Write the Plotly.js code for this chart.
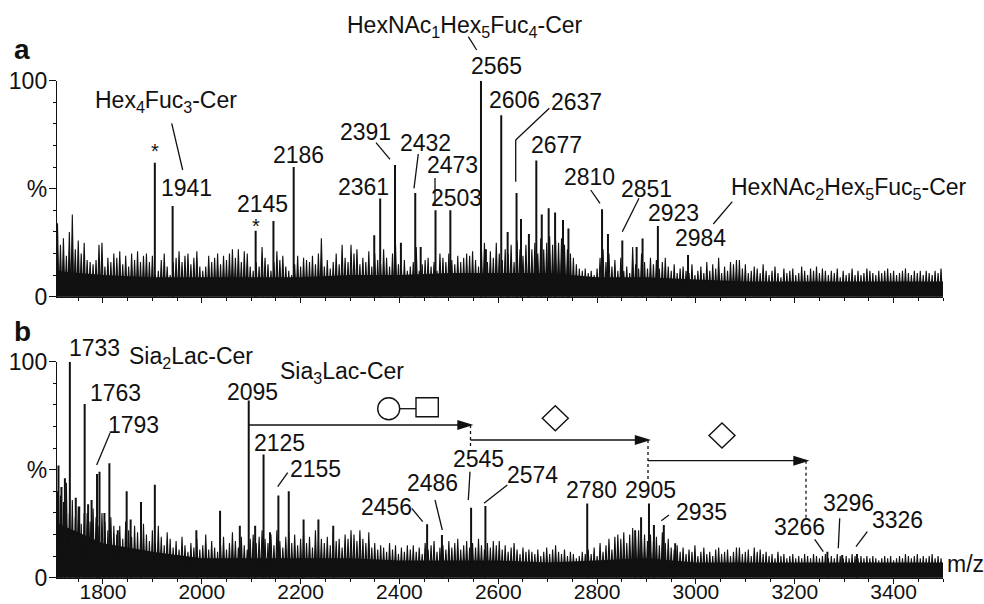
<!DOCTYPE html>
<html><head><meta charset="utf-8">
<script src="https://cdn.plot.ly/plotly-3.0.1.min.js"></script>
<style>html,body{margin:0;padding:0;background:#fff}#chart{width:984px;height:604px}</style>
</head><body><div id="chart"></div>
<script>
// ---- data ----
const gridStart = 1708, gridStep = 6;   // sampling grid of the noise spikes (m/z)
const noiseA = [
34,24,27,19,30,38,22,26,20,25,
17,16,15,17,24,25,14,18,16,20,
18,21,15,19,14,20,17,21,16,19,
20,16,19,10,12,17,20,14,10,16,
18,21,16,19,20,15,18,21,14,12,
14,19,16,18,20,15,19,17,20,22,
18,22,16,21,20,14,12,16,14,23,
18,15,12,16,21,17,19,14,12,10,
15,19,14,18,17,16,19,15,20,27,
14,17,13,16,20,15,24,18,16,24,
20,22,15,18,16,21,14,20,17,15,
22,18,14,20,25,15,13,17,12,14,
16,23,12,15,17,18,14,16,12,20,
18,16,20,17,15,19,16,18,20,19,
21,17,14,22,25,16,21,18,25,20,
17,22,20,24,16,26,22,19,24,23,
22,25,20,27,22,25,28,24,26,25,
27,24,22,20,18,15,13,12,13,11,
12,10,13,18,22,16,20,14,17,12,
18,12,14,11,23,15,13,20,16,13,
18,15,17,13,16,18,14,12,15,11,
13,14,12,11,15,10,12,14,11,16,
12,15,13,18,11,14,12,16,15,17,
17,13,15,11,12,14,13,11,15,12,
10,12,14,11,9,13,11,12,13,10,
11,14,12,10,13,12,14,11,13,12,
10,12,11,13,9,12,10,11,13,10,
12,10,11,13,12,11,10,12,11,12,
13,11,12,10,11,12,13,11,10,12,
11,12,10,12,11,10,12,11,13];
const noiseB = [
40,38,35,44,30,36,28,33,25,30,
30,26,32,28,24,30,26,22,28,24,
20,24,18,26,22,19,24,21,18,25,
20,17,22,16,24,19,15,21,18,14,
17,13,19,15,12,16,14,18,13,15,
20,13,17,14,12,15,19,13,16,21,
17,14,19,15,13,18,20,16,19,22,
18,16,20,15,22,17,14,19,21,16,
20,15,18,21,16,19,14,22,17,18,
16,19,15,21,17,18,14,20,18,22,
20,17,22,18,16,21,14,16,13,15,
14,12,16,13,15,11,14,12,15,13,
15,12,14,11,16,13,15,17,12,14,
15,13,17,14,16,18,13,15,17,14,
16,14,18,15,13,16,14,17,15,17,
13,15,12,14,16,13,11,14,12,13,
12,11,13,10,12,14,11,13,15,12,
11,13,10,12,11,9,10,12,11,13,
11,14,10,16,12,15,18,13,19,20,
18,21,16,20,23,19,22,18,20,17,
20,17,19,15,21,16,18,14,13,15,
12,14,11,13,12,15,10,12,14,11,
12,10,13,14,11,12,13,10,12,14,
14,11,12,13,10,14,12,13,11,12,
10,11,9,12,10,11,9,10,11,9,
10,9,11,10,9,11,10,9,10,11,
9,10,9,11,10,9,10,9,11,10,
9,10,9,10,9,10,9,8,9,10,
9,10,8,9,10,9,11,10,9,10,
11,9,10,9,10,11,9,10,9];
const floorMz = [1700,1800,1900,2000,2100,2200,2300,2400,2500,2600,2700,2800,2900,3000,3100,3200,3300,3400,3500];
const floorA  = [12,10,9,9,9,9,10,10,11,11,11,9,9,8,7,7,7,7,7];
const floorB  = [26,16,12,9,9,9,9,8,8,8,7,8,9,7,7,7,7,7,7];
const peakMzA  = [1905,1941,2109,2145,2186,2349,2361,2391,2403,2432,2443,2473,2503,2565,2575,2606,2619,2637,2646,2662,2677,2688,2702,2715,2731,2742,2810,2822,2851,2880,2892,2923,2984];
const peakIntA = [62,42,30.5,35,60,28.5,45.5,61,25,48,23,40,40,100,22,84,30,48,36,29,63,38,41,39,35.5,31.6,40.5,29,26,23,27,32.7,19.3];
const peakMzB  = [1710,1716,1723,1733,1745,1752,1763,1770,1777,1788,1793,1803,1813,1830,1848,1856,1877,1905,1989,2037,2077,2095,2108,2125,2138,2155,2176,2206,2236,2266,2456,2486,2545,2574,2780,2877,2889,2905,2915,2935,2958,3266,3296,3326];
const peakIntB = [52,42,46,100,37,33,80.4,34,36,48,49,30,53,22,40,27,35,43,22,31,24,82,24,57,21,38,40,27,27,24,24.7,19.8,32.4,33.2,34.4,22,28,34.4,24.4,24.4,16,12,10.5,11];
const tickVals = [1800,2000,2200,2400,2600,2800,3000,3200,3400];
const tickText = ['1800','2000','2200','2400','2600','2800','3000','3200','3400'];
const yTickVals = [0,50,100];
const yTickText = ['0','%','100'];

// ---- helpers ----
// spiky profile: each grid value is a spike apex, half a step either side returns to the baseline
function profile(vals){const h=gridStep/2;const x=[gridStart-h],y=[0];vals.forEach((v,i)=>{const m=gridStart+i*gridStep;x.push(m,m+h);y.push(v,0);});return {x,y};}
function sticks(mz,h){const x=[],y=[];mz.forEach((m,i)=>{x.push(m,m,null);y.push(0,h[i],null);});return {x,y};}
const INK='#111';
const FONT='Liberation Sans, Arial, Helvetica, sans-serif';
const L0=57, W=886, H=604;
const X=p=>(p-L0)/W, Y=p=>1-p/H;

const nA=profile(noiseA), nB=profile(noiseB), pA=sticks(peakMzA,peakIntA), pB=sticks(peakMzB,peakIntB);
const traces=[
 {x:floorMz,y:floorA,xaxis:'x',yaxis:'y',mode:'lines',fill:'tozeroy',fillcolor:INK,line:{width:0,color:INK},hoverinfo:'skip'},
 {x:nA.x,y:nA.y,xaxis:'x',yaxis:'y',mode:'lines',fill:'tozeroy',fillcolor:INK,line:{width:1.1,color:INK},hoverinfo:'skip'},
 {x:pA.x,y:pA.y,xaxis:'x',yaxis:'y',mode:'lines',line:{width:2,color:INK},hoverinfo:'skip'},
 {x:floorMz,y:floorB,xaxis:'x2',yaxis:'y2',mode:'lines',fill:'tozeroy',fillcolor:INK,line:{width:0,color:INK},hoverinfo:'skip'},
 {x:nB.x,y:nB.y,xaxis:'x2',yaxis:'y2',mode:'lines',fill:'tozeroy',fillcolor:INK,line:{width:1.1,color:INK},hoverinfo:'skip'},
 {x:pB.x,y:pB.y,xaxis:'x2',yaxis:'y2',mode:'lines',line:{width:2,color:INK},hoverinfo:'skip'}
];

const ann=[], shp=[];
function T(text,cx,cy,o){o=o||{};ann.push({text:text,xref:'paper',yref:'paper',x:X(cx),y:Y(cy),xanchor:'center',yanchor:'middle',showarrow:false,font:{family:FONT,size:o.size||23,color:INK}});}
function Ln(x1,y1,x2,y2,dash){shp.push({type:'line',xref:'paper',yref:'paper',x0:X(x1),y0:Y(y1),x1:X(x2),y1:Y(y2),line:{color:INK,width:1.3,dash:dash||'solid'}});}
function Path(pts,fill){let d='';pts.forEach((p,i)=>{d+=(i?' L ':'M ')+X(p[0]).toFixed(5)+' '+Y(p[1]).toFixed(5);});d+=' Z';shp.push({type:'path',xref:'paper',yref:'paper',path:d,fillcolor:fill,line:{color:INK,width:1.4}});}
function Arrow(x1,x2,y){Ln(x1,y,x2-12,y);Path([[x2,y],[x2-13,y-4],[x2-13,y+4]],INK);}

// panel a texts
T('<b>a</b>',22,50,{size:28});
T('Hex<sub>4</sub>Fuc<sub>3</sub>-Cer',166,101); Ln(171.7,123.3,182.7,170);
T('*',155.3,151,{size:20}); T('*',256,226,{size:20});
T('1941',186,188); T('2145',262,204); T('2186',298,155);
T('HexNAc<sub>1</sub>Hex<sub>5</sub>Fuc<sub>4</sub>-Cer',465,26); Ln(468.3,36.7,476.7,50);
T('2565',496,65.7); T('2606',514,100.5); T('2637',576,101.7);
Ln(549.3,108.3,515.7,140); Ln(515.7,140,515.7,181.7);
T('2391',365,132); Ln(376,142.7,390,159.3);
T('2432',425.5,143.3); Ln(418.3,154,414,188.3);
T('2473',452.5,165); Ln(435,178,435,205);
T('2503',456,197.5); T('2361',363,186.7); T('2677',556,145);
T('2810',589,176.7); Ln(590.7,190,600,203.3);
T('2851',646,189); Ln(639,198.3,622.3,231.7);
T('2923',673,213); T('2984',700,238.3);
T('HexNAc<sub>2</sub>Hex<sub>5</sub>Fuc<sub>5</sub>-Cer',849,188); Ln(732.3,201.7,713.3,224);
// panel b texts
T('<b>b</b>',22.5,331,{size:28});
T('1733',94,348.3); T('Sia<sub>2</sub>Lac-Cer',191,357);
T('1763',115,393); T('1793',133,425); Ln(110,433.3,96.7,465);
T('2095',252,391.7); T('Sia<sub>3</sub>Lac-Cer',342,372);
T('2125',279.5,443); T('2155',315,469); Ln(277.7,486.7,287.7,472.7);
T('2456',386,506.7); Ln(411.7,508.3,422.7,521.7);
T('2486',432,483); Ln(435,500,442.3,530);
T('2545',478,459); Ln(470,471.7,468.3,500);
T('2574',532,475); Ln(507.3,485,484,503.3);
T('2780',591.5,490); T('2905',650,490);
T('2935',701,512); Ln(669,515,661.3,520.7);
T('3266',799,527); Ln(814.7,539.3,823.3,551.7);
T('3296',848,502.5); Ln(839.7,518.3,838.3,548.3);
T('3326',897,520); Ln(867.3,531.7,856,546.7);
T('m/z',965,564);
// arrows, dashed drops, glycan symbols
Arrow(248.3,471,425); Ln(470.5,425,470.5,448,'3px,3px');
Arrow(470.5,648.5,440); Ln(648,440,648,482,'3px,3px');
Arrow(648,807,460.7); Ln(806,460.7,806,520,'3px,3px');
shp.push({type:'circle',xref:'paper',yref:'paper',x0:X(377.7),x1:X(399.7),y0:Y(419.8),y1:Y(397.8),line:{color:INK,width:1.4}});
Ln(399.7,408.7,416,408.7);
shp.push({type:'rect',xref:'paper',yref:'paper',x0:X(416),x1:X(438.3),y0:Y(416.7),y1:Y(397.7),line:{color:INK,width:1.4}});
Path([[555.3,405.8],[568.3,418.3],[555.3,430.8],[542.3,418.3]],'rgba(0,0,0,0)');
Path([[722,423],[735,435.5],[722,448],[709,435.5]],'rgba(0,0,0,0)');

const axBase={showline:true,linecolor:INK,linewidth:1.2,showgrid:false,zeroline:false,ticks:'outside',tickcolor:INK,tickwidth:1,
  tickfont:{family:FONT,size:23,color:INK},automargin:false,fixedrange:true};
const layout={
 width:984,height:604,margin:{l:L0,r:984-L0-W,t:0,b:0},paper_bgcolor:'#fff',plot_bgcolor:'#fff',showlegend:false,
 xaxis:Object.assign({},axBase,{domain:[0,1],anchor:'y',range:[1707,3500],tickmode:'array',tickvals:tickVals,ticktext:tickText,showticklabels:false,ticklen:5,
   minor:{tickmode:'linear',tick0:1700,dtick:50,ticks:'outside',ticklen:3,tickcolor:INK}}),
 yaxis:Object.assign({},axBase,{domain:[Y(296.7),Y(80.7)],anchor:'x',range:[0,100],tickmode:'array',tickvals:yTickVals,ticktext:yTickText,ticklen:7,ticklabelstandoff:-3,
   minor:{tickmode:'linear',tick0:0,dtick:10,ticks:'outside',ticklen:3,tickcolor:INK}}),
 xaxis2:Object.assign({},axBase,{domain:[0,1],anchor:'y2',range:[1707,3500],tickmode:'array',tickvals:tickVals,ticktext:tickText,ticklen:5,ticklabelstandoff:-10,
   tickfont:{family:FONT,size:21,color:INK},
   minor:{tickmode:'linear',tick0:1700,dtick:50,ticks:'outside',ticklen:3,tickcolor:INK}}),
 yaxis2:Object.assign({},axBase,{domain:[Y(577.7),Y(361.7)],anchor:'x2',range:[0,100],tickmode:'array',tickvals:yTickVals,ticktext:yTickText,ticklen:7,ticklabelstandoff:-3,
   minor:{tickmode:'linear',tick0:0,dtick:10,ticks:'outside',ticklen:3,tickcolor:INK}}),
 annotations:ann,shapes:shp
};
Plotly.newPlot('chart',traces,layout,{staticPlot:true,displayModeBar:false});
</script></body></html>
